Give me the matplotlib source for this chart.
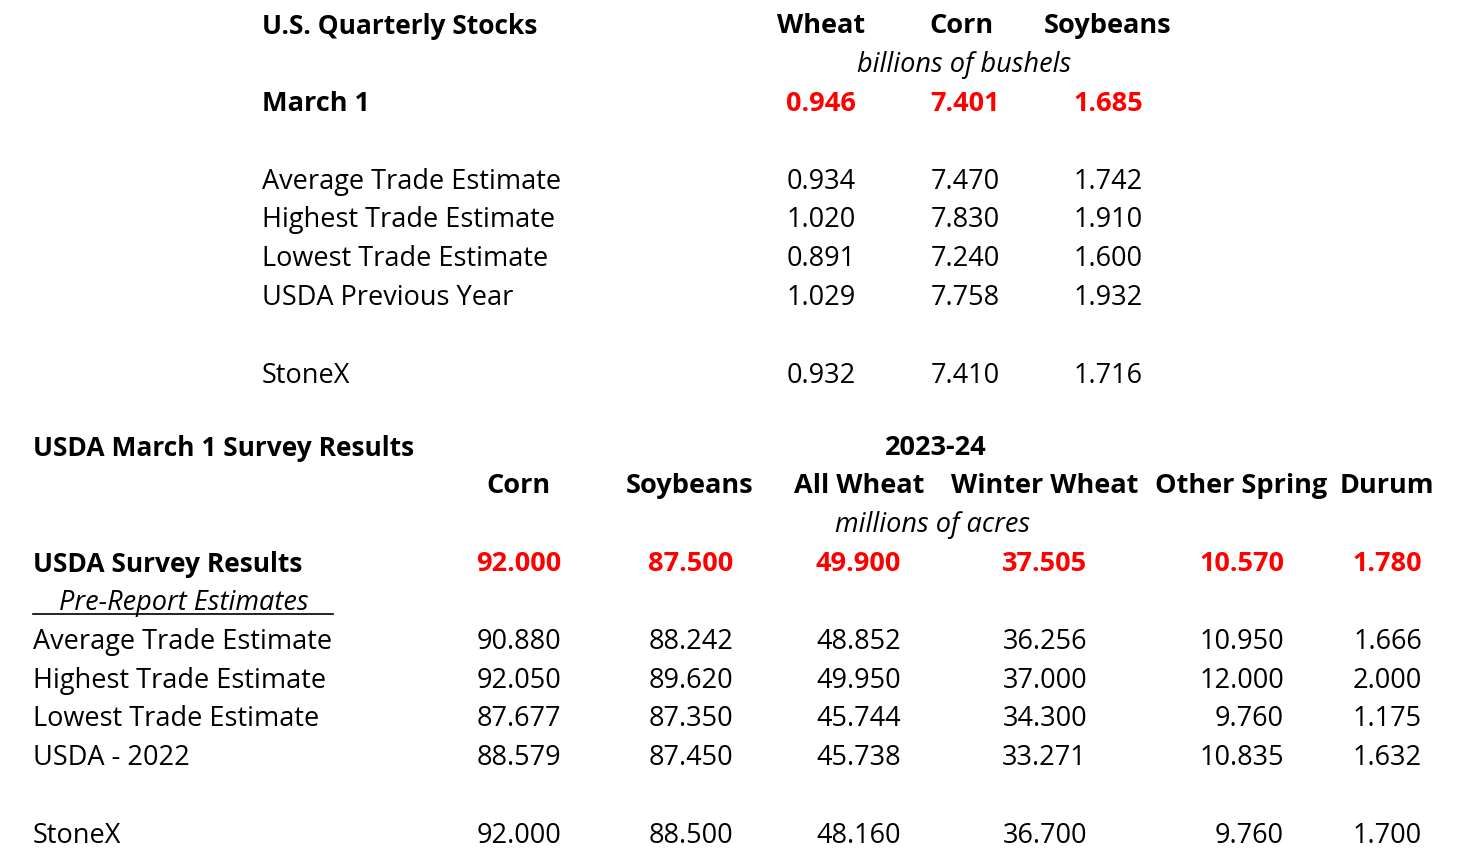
import matplotlib.pyplot as plt

plt.rcParams['font.family'] = ['Open Sans', 'DejaVu Sans']

# top table: U.S. quarterly stocks (billions of bushels)
stock_cols = ["Wheat", "Corn", "Soybeans"]
stock_actual = ["0.946", "7.401", "1.685"]
stock_rows = ["Average Trade Estimate", "Highest Trade Estimate",
              "Lowest Trade Estimate", "USDA Previous Year", "StoneX"]
stock_vals = [["0.934", "7.470", "1.742"],
              ["1.020", "7.830", "1.910"],
              ["0.891", "7.240", "1.600"],
              ["1.029", "7.758", "1.932"],
              ["0.932", "7.410", "1.716"]]

# bottom table: March 1 acreage survey (millions of acres)
acre_cols = ["Corn", "Soybeans", "All Wheat", "Winter Wheat", "Other Spring", "Durum"]
acre_actual = ["92.000", "87.500", "49.900", "37.505", "10.570", "1.780"]
acre_rows = ["Average Trade Estimate", "Highest Trade Estimate",
             "Lowest Trade Estimate", "USDA - 2022", "StoneX"]
acre_vals = [["90.880", "88.242", "48.852", "36.256", "10.950", "1.666"],
             ["92.050", "89.620", "49.950", "37.000", "12.000", "2.000"],
             ["87.677", "87.350", "45.744", "34.300", "9.760", "1.175"],
             ["88.579", "87.450", "45.738", "33.271", "10.835", "1.632"],
             ["92.000", "88.500", "48.160", "36.700", "9.760", "1.700"]]

W, H = 1473, 855
fig = plt.figure(figsize=(W / 100, H / 100), dpi=100)
ax = fig.add_axes([0, 0, 1, 1])
ax.set_xlim(0, W)
ax.set_ylim(H, 0)
ax.axis("off")

FS = 19.5
RED = "#ff0000"


def t(x, y, s, ha="left", **kw):
    kw.setdefault("fontsize", FS)
    ax.text(x, y + 2, s, ha=ha, va="center", **kw)


# ---- top table
t(262, 24, "U.S. Quarterly Stocks", fontweight="bold", fontsize=19)
for x, s in zip([821, 961, 1108], stock_cols):
    t(x, 24, s, ha="center", fontweight="bold")
t(964, 63, "billions of bushels", ha="center", style="italic")
t(262, 102, "March 1", fontweight="bold")
top_x = [856, 1000, 1143]
for x, s in zip(top_x, stock_actual):
    t(x, 102, s, ha="right", fontweight="bold", color=RED)
for y, lab, vals in zip([180, 218, 257, 296, 374], stock_rows, stock_vals):
    t(262, y, lab)
    for x, s in zip(top_x, vals):
        t(x, y, s, ha="right")

# ---- bottom table
t(33, 446, "USDA March 1 Survey Results", fontweight="bold", fontsize=19)
t(936, 446, "2023-24", ha="center", fontweight="bold")
for x, s in zip([518, 690, 859, 1045, 1241, 1387], acre_cols):
    t(x, 484, s, ha="center", fontweight="bold")
t(933, 523, "millions of acres", ha="center", style="italic")
bot_x = [561, 733, 901, 1087, 1284, 1422]
t(33, 562, "USDA Survey Results", fontweight="bold", fontsize=19)
for x, s in zip(bot_x, acre_actual):
    t(x, 562, s, ha="right", fontweight="bold", color=RED)
t(59, 601, "Pre-Report Estimates", style="italic")
ax.plot([33, 333], [614, 614], color="black", lw=1.2)
for y, lab, vals in zip([640, 679, 717, 756, 834], acre_rows, acre_vals):
    t(33, y, lab)
    for x, s in zip(bot_x, vals):
        t(x, y, s, ha="right")

fig.savefig("out.png", dpi=100, facecolor="white")
